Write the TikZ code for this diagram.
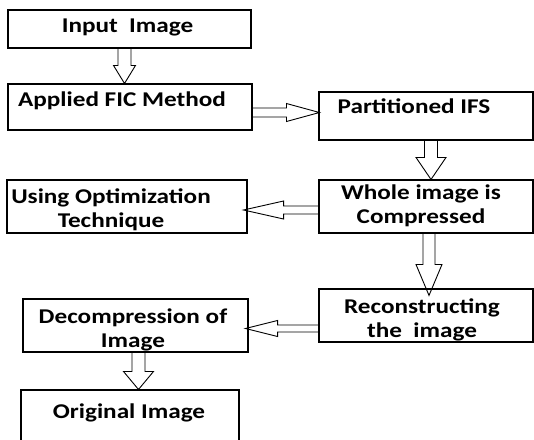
\documentclass[tikz,border=0pt]{standalone}
\usepackage{fontspec}
\setmainfont{Carlito}[FakeStretch=1.2]
\usepackage{tikz}
\usetikzlibrary{calc,positioning}

\tikzset{
	stepbox/.style={draw, line width=1.1pt, inner sep=0pt},
	boxtext/.style={inner sep=0pt, align=center, anchor=base, font=\fontsize{21}{23.5}\selectfont\bfseries},
	blockline/.style={line width=0.9pt, line join=miter}
}

% hollow block arrow: start, end (only its y or x is used), shaft half width, head half width, head length
\newcommand{\vblock}[5]{%
	\draw[blockline] let \p1=(#1), \p2=(#2), \p3=(\x1,\y2), \n1={atan2(\y3-\y1,\x3-\x1)}, \n2={veclen(\x3-\x1,\y3-\y1)} in
		[shift={(\p1)}, rotate=\n1] (0pt,-#3) -- (\n2-#5,-#3) -- (\n2-#5,-#4) -- (\n2,0pt) -- (\n2-#5,#4) -- (\n2-#5,#3) -- (0pt,#3);
}
\newcommand{\hblock}[5]{%
	\draw[blockline] let \p1=(#1), \p2=(#2), \p3=(\x2,\y1), \n1={atan2(\y3-\y1,\x3-\x1)}, \n2={veclen(\x3-\x1,\y3-\y1)} in
		[shift={(\p1)}, rotate=\n1] (0pt,-#3) -- (\n2-#5,-#3) -- (\n2-#5,-#4) -- (\n2,0pt) -- (\n2-#5,#4) -- (\n2-#5,#3) -- (0pt,#3);
}

\begin{document}
\begin{tikzpicture}[x=1pt, y=-1pt]
		\clip (0,0) rectangle (534,439);

		% boxes
		\node[stepbox, minimum width=243pt, minimum height=38pt] (inp) at (129.5,29) {};
		\node[stepbox, minimum width=244pt, minimum height=46pt] (fic) at (130,107) {};
		\node[stepbox, minimum width=214pt, minimum height=48pt] (ifs) at (426,116) {};
		\node[stepbox, minimum width=214pt, minimum height=53pt] (cmp) at (426,206.5) {};
		\node[stepbox, minimum width=240pt, minimum height=53pt] (opt) at (127,206.5) {};
		\node[stepbox, minimum width=214pt, minimum height=53pt] (rec) at (426,315.5) {};
		\node[stepbox, minimum width=225pt, minimum height=53pt] (dec) at (135.5,325.5) {};
		\node[stepbox, minimum width=218pt, minimum height=60pt] (org) at (130,420) {};

		% texts (base = last line)
		\node[boxtext] (inp-t) at (127.5,32) {Input\ \ Image};
		\node[boxtext] (fic-t) at (122,106) {Applied FIC Method};
		\node[boxtext] (ifs-t) at (414,113) {Partitioned IFS};
		\node[boxtext] (cmp-t) at (421,223) {Whole image is\\Compressed};
		\node[boxtext] (opt-t) at (111,227) {Using Optimization\\Technique};
		\node[boxtext] (rec-t) at (422,337) {Reconstructing\\the\ \ image};
		\node[boxtext] (dec-t) at (133,347) {Decompression of\\Image};
		\node[boxtext] (org-t) at (129,418) {Original Image};

		% arrows
		\vblock{[xshift=-5pt]inp.south}{fic.north}{6.5pt}{11pt}{18pt}
		\hblock{[yshift=-5.5pt]fic.east}{[xshift=1pt]ifs.west}{4.5pt}{9pt}{33pt}
		\vblock{[xshift=5pt]ifs.south}{cmp.north}{6.5pt}{15pt}{22pt}
		\hblock{[yshift=-3.5pt]cmp.west}{[xshift=-4pt]opt.east}{4pt}{9pt}{40pt}
		\vblock{[xshift=3pt]cmp.south}{[yshift=-7pt]rec.north}{6pt}{13pt}{31pt}
		\hblock{[yshift=-13pt]rec.west}{[xshift=-3pt]dec.east}{3.5pt}{8pt}{32pt}
		\vblock{[xshift=3pt]dec.south}{org.north}{6.5pt}{15pt}{18pt}
	\end{tikzpicture}
\end{document}
